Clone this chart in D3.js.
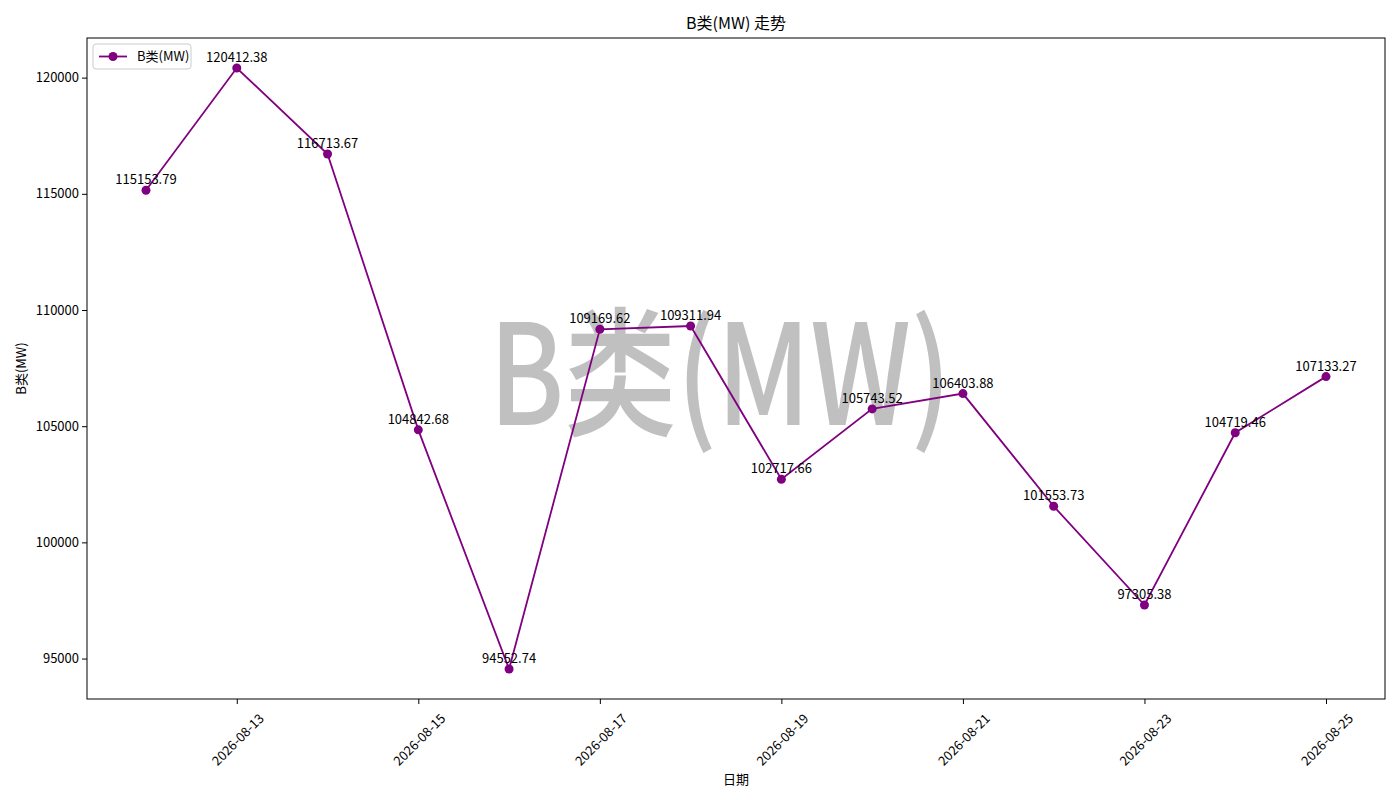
<!DOCTYPE html>
<html>
<head>
<meta charset="utf-8">
<script src="https://cdn.jsdelivr.net/npm/d3@7"></script>
<style>
  body { margin: 0; background: #fff; }
  text { font-family: "SimHei", "Noto Sans CJK SC", sans-serif; }
</style>
</head>
<body>
<div id="chart"></div>
<script>
const dates  = ["2026-08-12", "2026-08-13", "2026-08-14", "2026-08-15", "2026-08-16",
                "2026-08-17", "2026-08-18", "2026-08-19", "2026-08-20", "2026-08-21",
                "2026-08-22", "2026-08-23", "2026-08-24", "2026-08-25"];
const values = [115153.79, 120412.38, 116713.67, 104842.68, 94552.74,
                109169.62, 109311.94, 102717.66, 105743.52, 106403.88,
                101553.73, 97305.38, 104719.46, 107133.27];
const yTicks = [95000, 100000, 105000, 110000, 115000, 120000];
const xTicks = ["2026-08-13", "2026-08-15", "2026-08-17", "2026-08-19",
                "2026-08-21", "2026-08-23", "2026-08-25"];
const seriesName = "B类(MW)";

const width  = 1400;
const height = 800;
const margin = { top: 38, right: 15, bottom: 101, left: 87 };
const color  = "#800080";
const parse  = d3.utcParse("%Y-%m-%d");
const fmt    = d3.utcFormat("%Y-%m-%d");

const data = dates.map((d, i) => ({ date: parse(d), value: values[i] }));

// matplotlib style 5% padding on both axes
const xExt = d3.extent(data, d => d.date);
const xPad = (xExt[1] - xExt[0]) * 0.05;
const yExt = d3.extent(values);
const yPad = (yExt[1] - yExt[0]) * 0.05;

const x = d3.scaleUtc()
  .domain([new Date(+xExt[0] - xPad), new Date(+xExt[1] + xPad)])
  .range([margin.left, width - margin.right]);
const y = d3.scaleLinear()
  .domain([yExt[0] - yPad, yExt[1] + yPad])
  .range([height - margin.bottom, margin.top]);

const svg = d3.select("#chart").append("svg")
  .attr("width", width)
  .attr("height", height);

// watermark
svg.append("text")
  .attr("x", 720)
  .attr("y", 364)
  .attr("text-anchor", "middle")
  .attr("dominant-baseline", "central")
  .attr("font-size", 140)
  .attr("font-weight", 500)
  .attr("textLength", 462)
  .attr("lengthAdjust", "spacingAndGlyphs")
  .attr("fill", "#c0c0c0")
  .text(seriesName);

// axes
const xAxis = svg.append("g")
  .attr("transform", `translate(0,${height - margin.bottom})`)
  .call(d3.axisBottom(x).tickValues(xTicks.map(parse)).tickFormat(fmt).tickSizeOuter(0).tickSize(5));
xAxis.selectAll("text")
  .attr("font-size", 13)
  .attr("fill", "#000")
  .attr("text-anchor", "middle")
  .attr("dominant-baseline", "central")
  .attr("y", 0)
  .attr("dy", null)
  .attr("transform", "translate(0,40) rotate(-45)");

const yAxis = svg.append("g")
  .attr("transform", `translate(${margin.left},0)`)
  .call(d3.axisLeft(y).tickValues(yTicks).tickFormat(d3.format("d")).tickSizeOuter(0).tickSize(5));
yAxis.selectAll("text").attr("font-size", 13).attr("fill", "#000");

svg.selectAll(".domain").remove();
svg.selectAll(".tick line").attr("stroke", "#000");

// frame
svg.append("rect")
  .attr("x", margin.left)
  .attr("y", margin.top)
  .attr("width", width - margin.left - margin.right)
  .attr("height", height - margin.top - margin.bottom)
  .attr("fill", "none")
  .attr("stroke", "#000")
  .attr("stroke-width", 1);

// line + markers
const line = d3.line().x(d => x(d.date)).y(d => y(d.value));
svg.append("path")
  .datum(data)
  .attr("fill", "none")
  .attr("stroke", color)
  .attr("stroke-width", 1.8)
  .attr("d", line);

svg.selectAll(".dot")
  .data(data)
  .enter().append("circle")
  .attr("class", "dot")
  .attr("cx", d => x(d.date))
  .attr("cy", d => y(d.value))
  .attr("r", 4.5)
  .attr("fill", color);

svg.selectAll(".lbl")
  .data(data)
  .enter().append("text")
  .attr("class", "lbl")
  .attr("x", d => x(d.date))
  .attr("y", d => y(d.value) - 6)
  .attr("text-anchor", "middle")
  .attr("font-size", 13)
  .attr("fill", "#000")
  .text(d => d.value.toFixed(2));

// titles
svg.append("text")
  .attr("x", (margin.left + width - margin.right) / 2)
  .attr("y", 29)
  .attr("text-anchor", "middle")
  .attr("font-size", 16)
  .text(seriesName + " 走势");

svg.append("text")
  .attr("x", (margin.left + width - margin.right) / 2)
  .attr("y", 784)
  .attr("text-anchor", "middle")
  .attr("font-size", 13)
  .text("日期");

svg.append("text")
  .attr("transform", `translate(26,${(margin.top + height - margin.bottom) / 2}) rotate(-90)`)
  .attr("text-anchor", "middle")
  .attr("font-size", 13)
  .text(seriesName);

// legend
const lg = svg.append("g").attr("transform", `translate(${margin.left + 6},${margin.top + 6})`);
lg.append("rect")
  .attr("width", 98).attr("height", 25).attr("rx", 3)
  .attr("fill", "#fff").attr("fill-opacity", 0.8)
  .attr("stroke", "#ccc");
lg.append("line")
  .attr("x1", 6).attr("x2", 34).attr("y1", 12.5).attr("y2", 12.5)
  .attr("stroke", color).attr("stroke-width", 1.8);
lg.append("circle")
  .attr("cx", 20).attr("cy", 12.5).attr("r", 4.5).attr("fill", color);
lg.append("text")
  .attr("x", 44).attr("y", 17)
  .attr("font-size", 13)
  .text(seriesName);
</script>
</body>
</html>
